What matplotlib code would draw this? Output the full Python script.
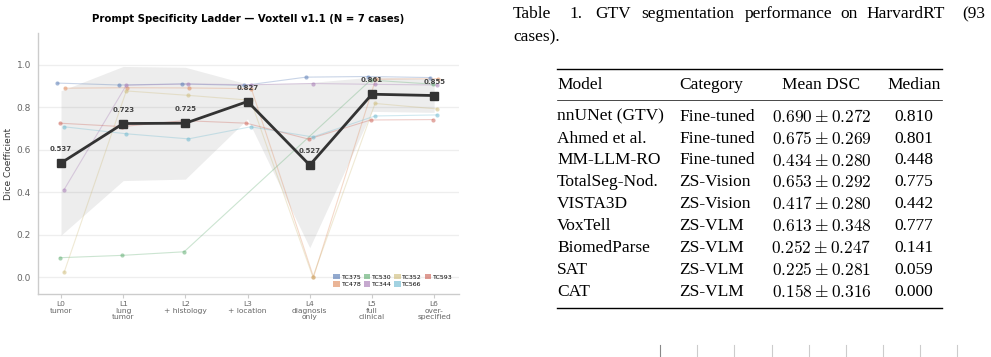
import numpy as np
import matplotlib
matplotlib.use("Agg")
import matplotlib.pyplot as plt
from matplotlib.patches import Patch

# prompt levels
levels = ["L0\ntumor", "L1\nlung\ntumor", "L2\n+ histology", "L3\n+ location",
          "L4\ndiagnosis\nonly", "L5\nfull\nclinical", "L6\nover-\nspecified"]

# per-case dice (nan = level not run)
cases = ["TC375", "TC478", "TC530", "TC344", "TC352", "TC566", "TC593"]
tc375 = [0.914, 0.905, 0.910, 0.903, 0.942, 0.945, 0.940]
tc478 = [0.890, 0.892, 0.891, 0.888, 0.000, 0.932, 0.935]
tc530 = [0.091, 0.102, 0.119, np.nan, np.nan, 0.928, 0.909]
tc344 = [0.412, 0.904, 0.910, 0.906, 0.912, 0.908, 0.905]
tc352 = [0.022, 0.877, 0.856, 0.833, 0.000, 0.818, 0.792]
tc566 = [0.708, 0.675, 0.651, 0.708, 0.660, 0.759, 0.764]
tc593 = [0.725, 0.709, 0.737, 0.725, 0.650, 0.740, 0.742]

case_colors = ["#4c72b0", "#dd8452", "#55a868", "#a070b0", "#ccb974", "#64b5cd", "#c9594c"]
jitter = [-0.06, 0.06, -0.02, 0.05, 0.05, 0.05, -0.02]

# table data
tab_models = ["nnUNet (GTV)", "Ahmed et al.", "MM-LLM-RO", "TotalSeg-Nod.", "VISTA3D",
              "VoxTell", "BiomedParse", "SAT", "CAT"]
tab_cats = ["Fine-tuned", "Fine-tuned", "Fine-tuned", "ZS-Vision", "ZS-Vision",
            "ZS-VLM", "ZS-VLM", "ZS-VLM", "ZS-VLM"]
tab_mean = [0.690, 0.675, 0.434, 0.653, 0.417, 0.613, 0.252, 0.225, 0.158]
tab_std = [0.272, 0.269, 0.280, 0.292, 0.280, 0.348, 0.247, 0.281, 0.316]
tab_median = [0.810, 0.801, 0.448, 0.775, 0.442, 0.777, 0.141, 0.059, 0.000]

plt.rcParams["mathtext.fontset"] = "cm"

W, H = 991, 357
fig = plt.figure(figsize=(W / 100, H / 100), dpi=100)

# ---- chart ----
ax = fig.add_axes([38 / W, 1 - 294 / H, (459 - 38) / W, (294 - 33) / H])
data = np.array([tc375, tc478, tc530, tc344, tc352, tc566, tc593])
x = np.arange(len(levels))

mean = np.nanmean(data, axis=0)
std = np.nanstd(data, axis=0)
ax.fill_between(x, mean - std, mean + std, color="#888888", alpha=0.15, lw=0, zorder=1)

for row, name, c, dx in zip(data, cases, case_colors, jitter):
    ok = ~np.isnan(row)
    ax.plot(x[ok] + dx, row[ok], color=c, lw=0.8, alpha=0.3, zorder=2)
    ax.plot(x[ok] + dx, row[ok], "o", color=c, ms=3, alpha=0.5, mec="none", zorder=3)

ax.plot(x, mean, color="#333333", lw=2.0, marker="s", ms=5.5, zorder=5)
for xi, m in zip(x, mean):
    ax.annotate(f"{m:.3f}", (xi, m), xytext=(0, 10), textcoords="offset points",
                ha="center", va="center", fontsize=5, fontweight="bold", color="#444444", zorder=6)

ax.set_xlim(-0.37, 6.4)
ax.set_ylim(-0.08, 1.15)
ax.set_xticks(x)
ax.set_xticklabels(levels, fontsize=5.4, color="#666666", linespacing=1.15)
ax.set_yticks([0, 0.2, 0.4, 0.6, 0.8, 1.0])
ax.set_yticklabels(["0.0", "0.2", "0.4", "0.6", "0.8", "1.0"], fontsize=6.5, color="#666666")
ax.tick_params(axis="y", length=0, pad=5)
ax.tick_params(axis="x", length=3, color="#cccccc", pad=2)
ax.grid(axis="y", color="#eeeeee", lw=0.9, zorder=0)
ax.set_axisbelow(True)
for s in ["top", "right"]:
    ax.spines[s].set_visible(False)
for s in ["left", "bottom"]:
    ax.spines[s].set_color("#cccccc")
    ax.spines[s].set_linewidth(1.0)
ax.set_ylabel("Dice Coefficient", fontsize=6.5, color="#333333", labelpad=3)
ax.set_title("Prompt Specificity Ladder — Voxtell v1.1 (N = 7 cases)",
             fontsize=7.3, fontweight="bold", pad=8)

handles = [Patch(facecolor=c, alpha=0.6, edgecolor="none") for c in case_colors]
ax.legend(handles, cases, loc="lower right", ncol=4, fontsize=4.5, frameon=False,
          handlelength=1.0, handleheight=1.0, handletextpad=0.3, columnspacing=0.4,
          labelspacing=0.25, borderaxespad=0.3, bbox_to_anchor=(0.995, 0.01))

# ---- table (pixel coordinates) ----
ov = fig.add_axes([0, 0, 1, 1])
ov.set_xlim(0, W)
ov.set_ylim(H, 0)
ov.axis("off")

serif = "Liberation Serif"
fs = 12.5
caption = [("Table", 513), ("1.", 569), ("GTV", 595), ("segmentation", 641),
           ("performance", 745), ("on", 840), ("HarvardRT", 866), ("(93", 962)]
for word, xp in caption:
    ov.text(xp, 14, word, family=serif, fontsize=fs, ha="left", va="center")
ov.text(513, 37, "cases).", family=serif, fontsize=fs, ha="left", va="center")

x_left, x_right = 557, 942
x_cat, x_mean, x_med = 679, 821.5, 914
ov.plot([x_left, x_right], [69, 69], color="black", lw=1.0)
ov.plot([x_left, x_right], [100, 100], color="black", lw=0.5)
ov.plot([x_left, x_right], [307.5, 307.5], color="black", lw=1.0)

ov.text(x_left, 85, "Model", family=serif, fontsize=fs, ha="left", va="center")
ov.text(x_cat, 85, "Category", family=serif, fontsize=fs, ha="left", va="center")
ov.text(x_mean, 85, "Mean DSC", family=serif, fontsize=fs, ha="center", va="center")
ov.text(x_med, 85, "Median", family=serif, fontsize=fs, ha="center", va="center")

row_y = 116.7
for i in range(len(tab_models)):
    y = row_y + i * 21.9
    ov.text(x_left, y, tab_models[i], family=serif, fontsize=fs, ha="left", va="center")
    ov.text(x_cat, y, tab_cats[i], family=serif, fontsize=fs, ha="left", va="center")
    ov.text(x_mean, y, rf"${tab_mean[i]:.3f} \pm {tab_std[i]:.3f}$", fontsize=fs,
            ha="center", va="center")
    ov.text(x_med, y, f"{tab_median[i]:.3f}", family=serif, fontsize=fs, ha="center", va="center")

# top of the next figure peeking in
for k, xp in enumerate([660, 697, 734, 772, 809, 846, 883, 920, 957]):
    ov.plot([xp, xp], [345, 357], color="#888888" if k == 0 else "#cccccc", lw=0.8)

fig.savefig("out.png", dpi=100)
